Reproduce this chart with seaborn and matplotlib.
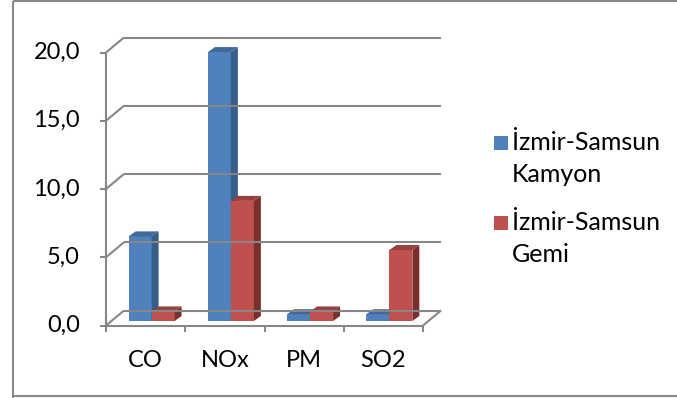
import matplotlib
matplotlib.use("Agg")
import numpy as np
import pandas as pd
import matplotlib.pyplot as plt
import matplotlib.transforms as mtransforms
from matplotlib.patches import Polygon, Rectangle
from matplotlib.lines import Line2D
from matplotlib.colors import to_rgba
import seaborn as sns

# ---- data -------------------------------------------------------------
categories = ["CO", "NOx", "PM", "SO2"]
series = ["İzmir-Samsun\nKamyon", "İzmir-Samsun\nGemi"]
kamyon = [6.2, 19.7, 0.5, 0.5]
gemi = [0.7, 8.8, 0.7, 5.2]
y_ticks = [0, 5, 10, 15, 20]
y_tick_labels = ["0,0", "5,0", "10,0", "15,0", "20,0"]

# ---- style ------------------------------------------------------------
front_colors = ["#4F81BD", "#C0504D"]
side_colors = ["#385D8A", "#7B2F2D"]
top_colors = ["#41699A", "#98403D"]
grid_color = "#868686"
text_color = "#000000"

df = pd.DataFrame({
    "Kategori": categories * 2,
    "Seri": [series[0]] * len(categories) + [series[1]] * len(categories),
    "Değer": kamyon + gemi,
})

sns.set_theme(style="white")
plt.rcParams["font.family"] = ["Lato", "DejaVu Sans"]

W, H = 677, 398
fig = plt.figure(figsize=(W / 100, H / 100), dpi=100)
fig.patch.set_facecolor("white")
ident = mtransforms.IdentityTransform()

# the axes represent the plane of the bars' front faces
ax = fig.add_axes([112 / W, (H - 321) / H, 317 / W, 273 / H])
sns.barplot(data=df, x="Kategori", y="Değer", hue="Seri",
            palette=front_colors, width=0.58, saturation=1,
            legend=False, errorbar=None, linewidth=0, ax=ax)
ax.set_xlim(-0.5, 3.5)
ax.set_ylim(0, 20)
ax.set_axis_off()

FRONT = np.array([-6.0, -4.5])   # front wall relative to bar plane (px)
BACK = np.array([12.0, 10.5])    # back wall relative to bar plane (px)
DEPTH = np.array([7.0, 5.0])     # bar depth (px)


def disp(x, y, plane=(0.0, 0.0)):
    return ax.transData.transform((x, y)) + np.asarray(plane)


def line(p, q, lw=1.5, color=grid_color, z=1):
    fig.add_artist(Line2D([p[0], q[0]], [p[1], q[1]], transform=ident,
                          color=color, lw=lw, solid_capstyle="butt", zorder=z))


# walls, floor and gridlines
for v, lab in zip(y_ticks, y_tick_labels):
    a = disp(-0.5, v, BACK)
    b = disp(3.5, v, BACK)
    c = disp(-0.5, v, FRONT)
    line(a, b)
    line(c, a)
    line(c, c - np.array([6, 0]))
    fig.text(c[0] - 26, c[1], lab, transform=ident, ha="right", va="center",
             fontsize=17, color=text_color)

line(disp(-0.5, 0, FRONT), disp(-0.5, 20, FRONT))
line(disp(-0.5, 0, FRONT), disp(3.5, 0, FRONT))
line(disp(3.5, 0, FRONT), disp(3.5, 0, BACK))
for x in np.arange(-0.5, len(categories), 1.0):
    p = disp(x, 0, FRONT)
    line(p, p - np.array([0, 6]))
for i, cat in enumerate(categories):
    p = disp(i, 0, FRONT)
    fig.text(p[0], p[1] - 35, cat, transform=ident, ha="center", va="center",
             fontsize=17, color=text_color)

# 3D side and top faces for each bar
for patch in ax.patches:
    fc = patch.get_facecolor()
    k = 0 if np.allclose(fc, to_rgba(front_colors[0])) else 1
    z = 3 + 2 * k
    patch.set_zorder(z)
    x0, w, h = patch.get_x(), patch.get_width(), patch.get_height()
    p1, p2, p3 = disp(x0 + w, 0), disp(x0 + w, h), disp(x0, h)
    side = [p1, p2, p2 + DEPTH, p1 + DEPTH]
    top = [p3, p2, p2 + DEPTH, p3 + DEPTH]
    for verts, col in ((side, side_colors[k]), (top, top_colors[k])):
        poly = Polygon(verts, closed=True, facecolor=col, edgecolor="none",
                       transform=ident, clip_on=False, zorder=z)
        ax.add_artist(poly)

# legend
legend_rows = [143, 223]
for k, (label, row) in enumerate(zip(series, legend_rows)):
    fig.add_artist(Rectangle((494, H - row - 7), 14, 14, transform=ident,
                             facecolor=front_colors[k], edgecolor="none"))
    for j, part in enumerate(label.split("\n")):
        fig.text(512, H - row - 32 * j, part, transform=ident, ha="left",
                 va="center", fontsize=18, color=text_color)

# outer chart border
border = "#898989"
line((12.5, 0), (12.5, H - 1), lw=1.5, color=border)
line((12.5, H - 1), (W, H - 1), lw=1.5, color=border)
line((12.5, 2), (W, 2), lw=1.5, color=border)

fig.savefig("out.png", dpi=100)
